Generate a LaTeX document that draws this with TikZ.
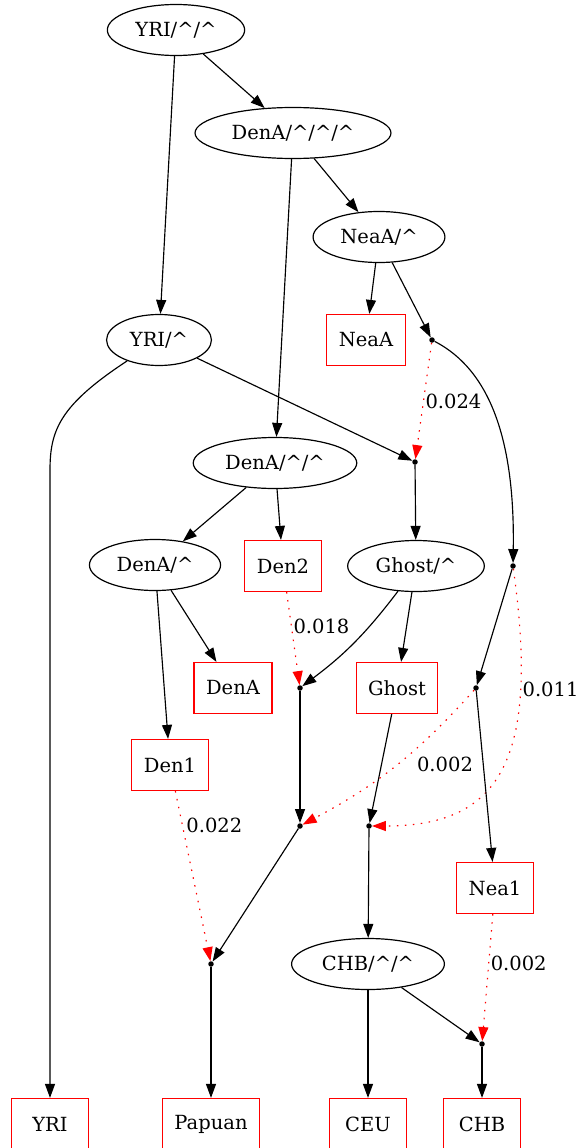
\documentclass[tikz,border=0pt]{standalone}
\usepackage{fontspec}
\setmainfont{DejaVu Serif}
\usetikzlibrary{arrows.meta,shapes.geometric}

\newcommand{\crt}{\textasciicircum}

\tikzset{
  pop/.style={ellipse,draw,line width=1.2pt,inner xsep=8pt,inner ysep=3pt,minimum height=51pt},
  leaf/.style={rectangle,draw=red,line width=1.2pt,inner xsep=12pt,minimum width=77pt,minimum height=51pt},
  mix/.style={circle,fill,inner sep=0pt,minimum size=5.5pt},
  tree/.style={-{Triangle[length=14pt,width=10pt]},line width=1.15pt},
  admix/.style={tree,red,dash pattern=on 1.5pt off 6.5pt},
  wt/.style={black,inner sep=1.5pt}
}

\begin{document}
\begin{tikzpicture}[x=1pt,y=-1pt,font=\fontsize{19.5}{22}\selectfont]
	\useasboundingbox (0,0) rectangle (577,1148);
			\node[pop] (0) at (176,30) {YRI/\crt/\crt};
			\node[pop] (1) at (293,133) {DenA/\crt/\crt/\crt};
				\path[tree] (0) edge (1);
			\node[pop] (2) at (379,237) {NeaA/\crt};
				\path[tree] (1) edge (2);
			\node[leaf] (3) at (366,340) {NeaA};
				\path[tree] (2) edge (3);
			\node[mix] (4) at (432,340) {};
				\path[tree] (2) edge (4);
			\node[pop] (5) at (159,340) {YRI/\crt};
				\path[tree] (0) edge (5);
			\node[mix] (6) at (415,462) {};
				\path[tree] (5) edge (6);
				\path[admix] (4) edge node[wt,pos=0.5,anchor=west] {0.024} (6);
			\node[pop] (7) at (275,463) {DenA/\crt/\crt};
				\path[tree] (1) edge (7);
			\node[pop] (8) at (416,566) {Ghost/\crt};
				\path[tree] (6) edge (8);
			\node[pop] (9) at (155,565) {DenA/\crt};
				\path[tree] (7) edge (9);
			\node[leaf] (10) at (283,566) {Den2};
				\path[tree] (7) edge (10);
			\node[mix] (11) at (513,566) {};
				\draw[tree] (4) .. controls (490,370) and (515,440) .. (11);
			\node[leaf] (12) at (233,688) {DenA};
				\path[tree] (9) edge (12);
			\node[mix] (13) at (300,688) {};
				\path[tree] (8) edge[bend left=8] (13);
				\path[admix] (10) edge node[wt,pos=0.37,anchor=west] {0.018} (13);
			\node[leaf] (14) at (397,688) {Ghost};
				\path[tree] (8) edge (14);
			\node[mix] (15) at (476,688) {};
				\path[tree] (11) edge (15);
			\node[leaf] (16) at (170,765) {Den1};
				\path[tree] (9) edge (16);
			\node[mix] (17) at (300,826) {};
				\path[tree] (13) edge (17);
				\path[admix] (15) edge[bend left=10] (17);
			\node[wt] (w17) at (445,764) {0.002};
			\node[mix] (18) at (369,826) {};
				\path[tree] (14) edge (18);
				\draw[admix] (11) .. controls (540,760) and (500,826) .. node[wt,pos=0.25,anchor=west] {0.011} (18);
			\node[leaf] (19) at (495,888) {Nea1};
				\path[tree] (15) edge (19);
			\node[mix] (20) at (211,964) {};
				\path[tree] (17) edge (20);
				\path[admix] (16) edge node[wt,pos=0.2,anchor=west,xshift=2pt] {0.022} (20);
			\node[pop] (21) at (368,964) {CHB/\crt/\crt};
				\path[tree] (18) edge (21);
			\node[mix] (22) at (482,1044) {};
				\path[tree] (21) edge (22);
				\path[admix] (19) edge node[wt,pos=0.39,anchor=west] {0.002} (22);
			\node[leaf] (23) at (50,1124) {YRI};
				\draw[tree] (5) .. controls (60,405) and (50,430) .. (50,470) -- (23);
			\node[leaf] (24) at (211,1124) {Papuan};
				\path[tree] (20) edge (24);
			\node[leaf] (25) at (368,1124) {CEU};
				\path[tree] (21) edge (25);
			\node[leaf] (26) at (482,1124) {CHB};
				\path[tree] (22) edge (26);
\end{tikzpicture}
\end{document}
